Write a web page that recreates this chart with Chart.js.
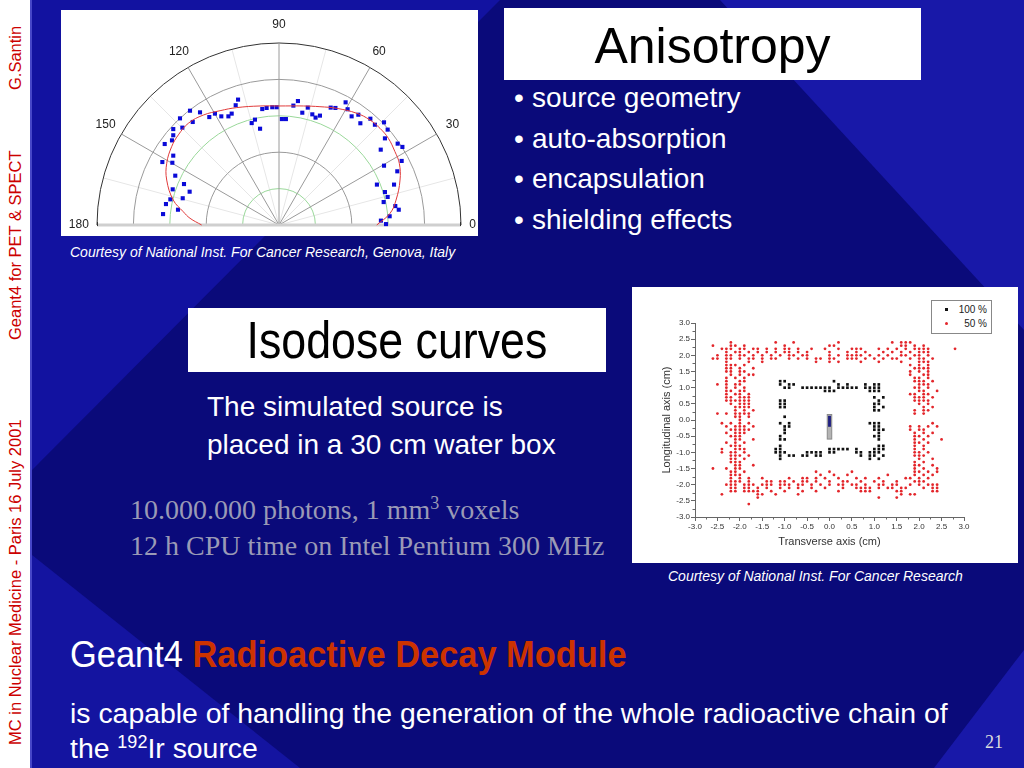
<!DOCTYPE html>
<html>
<head>
<meta charset="utf-8">
<script src="https://cdn.jsdelivr.net/npm/chart.js@4.4.0/dist/chart.umd.min.js"></script>
<style>
  body { margin:0; width:1024px; height:768px; overflow:hidden; position:relative;
         background:#0a0a7a; font-family:"Liberation Sans", Arial, sans-serif; color:#fff; }
  .abs { position:absolute; }
  #bg { position:absolute; left:0; top:0; }
  .strip { left:0; top:0; width:30px; height:768px; background:#fff; border-right:2px solid #4646c8; }
  .side { left:0; top:768px; width:768px; height:30px; transform-origin:0 0; transform:rotate(-90deg);
          color:#cc0000; font-size:16.5px; line-height:30px; white-space:nowrap; }
  .side span { position:absolute; top:0; }
  .box { background:#fff; color:#000; text-align:center; white-space:nowrap; }
  .bul { left:514px; top:78px; font-size:28px; line-height:40.7px; white-space:nowrap; }
  .bul div span { display:inline-block; width:18px; }
  .courtesy { font-style:italic; font-size:14px; white-space:nowrap; }
  .serif { font-family:"Liberation Serif", "Times New Roman", serif; color:#9a9ab6; font-size:28px; white-space:nowrap; }
  #legend { left:931px; top:300px; width:59px; height:30px; border:1px solid #888; background:#fff;
            font-size:10px; color:#222; }
  #legend div { height:14px; line-height:14px; position:relative; }
  #legend i { position:absolute; left:13px; top:5px; width:3px; height:3px; }
  #legend b { position:absolute; right:4px; font-weight:normal; }
</style>
</head>
<body>
<svg id="bg" width="1024" height="768">
  <polygon points="32,0 500,0 32,470" fill="#1212a0"/>
  <polygon points="720,0 1024,0 1024,330" fill="#1818a8"/>
  <polygon points="32,555 300,768 32,768" fill="#1414a0"/>
  <polygon points="1024,650 1024,768 934,768" fill="#1818a8"/>
</svg>
<div class="abs strip"></div>
<div class="abs side">
  <span style="left:23px">MC in Nuclear Medicine - Paris 16 July 2001</span>
  <span style="left:428px">Geant4 for PET &amp; SPECT</span>
  <span style="left:678px">G.Santin</span>
</div>

<div class="abs box" style="left:61px;top:10px;width:417px;height:226px"></div>
<canvas id="polar" class="abs" width="417" height="226" style="left:61px;top:10px"></canvas>
<div class="abs courtesy" style="left:70px;top:244px">Courtesy of National Inst. For Cancer Research, Genova, Italy</div>

<div class="abs box" style="left:504px;top:8px;width:417px;height:72px;font-size:50px;line-height:76px">Anisotropy</div>
<div class="abs bul">
  <div><span>•</span>source geometry</div>
  <div><span>•</span>auto-absorption</div>
  <div><span>•</span>encapsulation</div>
  <div><span>•</span>shielding effects</div>
</div>

<div class="abs box" style="left:188px;top:308px;width:418px;height:64px;line-height:64px">
  <span style="display:inline-block;font-size:52px;transform:scaleX(0.86)">Isodose curves</span></div>
<div class="abs" style="left:207px;top:388px;font-size:28px;line-height:38px;white-space:nowrap">
  The simulated source is<br>placed in a 30 cm water box</div>
<div class="abs serif" style="left:130px;top:492px;line-height:36px">
  10.000.000 photons, 1 mm<sup style="font-size:18px;line-height:0">3</sup> voxels<br>12 h CPU time on Intel Pentium 300 MHz</div>

<div class="abs box" style="left:632px;top:287px;width:386px;height:276px"></div>
<canvas id="iso" class="abs" width="386" height="276" style="left:632px;top:287px"></canvas>
<div id="legend" class="abs"></div>
<div class="abs courtesy" style="left:668px;top:568px">Courtesy of National Inst. For Cancer Research</div>

<div class="abs" style="left:70px;top:634px;font-size:37px;white-space:nowrap;transform-origin:0 0;transform:scaleX(0.93)">
  Geant4 <b style="color:#cc3300">Radioactive Decay Module</b></div>
<div class="abs" style="left:70px;top:696px;font-size:28.4px;line-height:35px;white-space:nowrap">
  is capable of handling the generation of the whole radioactive chain of<br>the <sup style="font-size:18px;line-height:0">192</sup>Ir source</div>
<div class="abs" style="left:985px;top:732px;font-family:'Liberation Serif',serif;font-size:18px;color:#ddd">21</div>

<script>
// ---- Anisotropy (polar plot, relative dose, x = r·cosθ, y = r·sinθ) ----
const anisoX = [-0.225,-0.238,-0.260,-0.278,-0.317,-0.352,-0.383,-0.434,-0.489,-0.474,-0.544,-0.531,-0.581,-0.581,
  -0.588,-0.628,-0.581,-0.641,-0.586,-0.570,-0.522,-0.584,-0.491,-0.529,-0.597,-0.621,-0.555,-0.637,
  -0.150,-0.132,-0.104,-0.092,-0.068,-0.037,-0.013,0.016,0.038,0.079,0.104,0.128,0.158,0.183,0.201,0.225,
  0.284,0.310,0.366,0.377,0.399,0.436,0.447,
  0.502,0.527,0.577,0.597,0.582,0.652,0.678,0.559,0.674,0.577,0.650,0.632,0.538,0.582,0.597,0.575,0.639,
  0.658,0.608,0.560,0.588];
const anisoY = [0.689,0.658,0.612,0.597,0.597,0.612,0.593,0.619,0.628,0.566,0.586,0.535,0.527,0.493,
  0.465,0.445,0.381,0.346,0.342,0.271,0.225,0.196,0.183,0.147,0.141,0.115,0.084,0.060,
  0.560,0.579,0.529,0.637,0.643,0.647,0.647,0.582,0.582,0.656,0.681,0.617,0.645,0.608,0.590,0.601,
  0.645,0.643,0.674,0.636,0.597,0.606,0.559,
  0.584,0.551,0.564,0.524,0.476,0.447,0.429,0.414,0.352,0.326,0.295,0.222,0.222,0.181,0.154,0.126,0.104,
  0.084,0.048,0.024,0.005];
// fitted curve (red)
const fitX = [-0.425,-0.489,-0.526,-0.581,-0.617,-0.617,-0.590,-0.553,-0.498,-0.416,-0.324,-0.233,-0.104,0,
  0.134,0.225,0.317,0.427,0.500,0.555,0.601,0.637,0.661,0.665,0.643,0.610,0.537];
const fitY = [0,0.037,0.073,0.137,0.247,0.339,0.430,0.495,0.559,0.604,0.628,0.645,0.654,0.654,
  0.654,0.650,0.641,0.614,0.577,0.531,0.476,0.403,0.339,0.247,0.137,0.064,0];
const polarAngles = [0, 30, 60, 90, 120, 150, 180];
const polarRings = [0.2, 0.4, 0.6, 0.8, 1.0];

// ---- Isodose curves: rows of [y, x values] in cm ----
const iso100Rows = [
  [1.2, [-1.1,-1.0,0.1]],
  [1.1, [-1.1,-0.9,-0.8,0.2,0.4,0.8,1.0,1.1]],
  [1.0, [-1.0,-0.9,-0.6,-0.5,-0.4,-0.3,-0.2,-0.1,0.0,0.2,0.3,0.4,0.5,0.6,0.8,0.9,1.0,1.1]],
  [0.9, [-0.1,0.0,0.1,0.9,1.0,1.1]],
  [0.7, [1.0,1.2]],
  [0.6, [-1.1,-1.0,1.1]],
  [0.5, [-1.1,-1.0,1.0,1.1]],
  [0.4, [-1.1,-1.0,1.0,1.2]],
  [0.3, [1.0,1.1]],
  [0.1, [-1.0]],
  [-0.1, [-1.1,-0.9,0.9,1.0,1.1]],
  [-0.2, [-1.0,-0.9,1.0,1.1]],
  [-0.3, [-1.0,1.0,1.1,1.2]],
  [-0.4, [-1.0,1.1]],
  [-0.5, [-1.1,1.0,1.1]],
  [-0.6, [-1.1,-1.0,1.1]],
  [-0.8, [-1.1,1.1,1.2]],
  [-0.9, [-1.2,-1.1,0.0,0.1,0.2,0.3,0.4,0.6,1.0,1.1,1.2]],
  [-1.0, [-1.2,-1.1,-1.0,-0.5,-0.4,-0.3,-0.2,0.0,0.1,0.6,0.7,0.9,1.0,1.1]],
  [-1.1, [-1.1,-0.9,-0.8,-0.6,-0.5,-0.3,-0.2,0.7,0.9,1.0,1.2]],
  [-1.2, [-1.1,0.9,1.1]]
];
const iso50Rows = [
  [2.4, [-2.2,-1.2,-0.8,0.2,1.4,1.6,1.7,1.8]],
  [2.3, [-2.6,-2.2,-2.1,-1.9,-1.0,0.0,0.1,1.6,1.7,1.9,2.1]],
  [2.2, [-2.4,-2.3,-2.2,-2.0,-1.9,-1.7,-1.6,-1.4,-1.2,-1.0,-0.9,-0.7,-0.4,-0.1,0.2,0.5,0.6,0.7,1.1,1.3,1.5,1.7,1.9,2.0,2.1,2.2,2.8]],
  [2.1, [-2.3,-2.1,-2.0,-1.8,-1.6,-1.4,-1.2,-1.0,-0.9,-0.7,-0.5,0.0,0.4,0.6,0.8,1.2,1.4,1.6,1.8,2.0,2.1,2.2]],
  [2.0, [-2.5,-2.3,-2.2,-2.0,-1.9,-1.7,-1.5,-1.3,-1.1,-0.9,-0.8,-0.6,-0.5,0.0,0.2,0.4,0.5,0.6,0.7,0.9,1.1,1.3,1.6,1.7,1.9,2.0,2.2]],
  [1.9, [-2.6,-2.5,-2.3,-2.2,-2.0,-1.8,-1.7,-1.5,-1.3,-1.2,-0.9,-0.7,-0.5,-0.3,-0.2,0.0,0.1,0.4,0.5,0.6,0.8,1.0,1.2,1.4,1.5,1.8,2.0,2.1,2.3]],
  [1.8, [-2.3,-1.8,-1.5,-0.3,0.0,0.2,0.7,1.1,1.6,2.0,2.1,2.2]],
  [1.7, [-2.3,-2.2,-2.1,-1.9,1.8,2.0,2.2]],
  [1.6, [-2.3,-2.2,-2.0,-1.7,1.9,2.0,2.1,2.2]],
  [1.5, [-2.3,-2.2,-2.0,-1.9,1.8,2.0,2.2]],
  [1.4, [-2.2,-2.0,-1.8,-1.7,1.8,2.1,2.2]],
  [1.3, [-2.3,-2.1,-1.9,1.9,2.0,2.2]],
  [1.2, [-2.3,-2.0,-1.9,1.9,2.0,2.1,2.3]],
  [1.1, [-2.5,-2.3,-2.1,-2.0,2.0,2.1,2.2]],
  [1.0, [-2.3,-2.1,-1.9,1.9,2.0,2.2]],
  [0.9, [-2.3,-2.2,-2.0,-1.9,2.0,2.1,2.4]],
  [0.8, [-2.3,-2.1,-2.0,-1.8,1.8,1.9,2.1,2.2]],
  [0.7, [-2.3,-2.2,-2.0,-1.9,-1.8,1.9,2.0,2.1,2.3]],
  [0.6, [-2.3,-2.2,-2.1,-2.0,-1.9,-1.8,1.9,2.0,2.1,2.2]],
  [0.5, [-2.2,-2.0,-1.9,-1.8,2.0,2.2]],
  [0.4, [-2.1,-2.0,-1.9,-1.8,2.1,2.3]],
  [0.3, [-2.1,-1.9,-1.7,1.9,2.1,2.2]],
  [0.2, [-2.5,-2.3,-2.1,-2.0,-1.9,-1.8,1.9,2.1]],
  [0.1, [-2.1,-2.0,-1.8]],
  [0.0, [-2.0]],
  [-0.1, [-2.4,-2.2,-2.0,-1.8,2.3]],
  [-0.2, [-2.3,-2.1,-2.0,-1.9,-1.7,1.8,2.0,2.2,2.4]],
  [-0.3, [-2.2,-2.1,-2.0,-1.9,-1.8,1.8,2.0,2.1]],
  [-0.4, [-2.3,-2.1,-2.0,-1.9,1.9,2.1,2.3]],
  [-0.5, [-2.2,-2.1,-2.0,1.9,2.0,2.2]],
  [-0.6, [-2.1,-2.0,-1.7,1.9,2.1,2.5]],
  [-0.7, [-2.3,-2.1,-1.9,1.9,2.0,2.2]],
  [-0.8, [-2.2,-2.1,-2.0,1.9,2.1]],
  [-0.9, [-2.4,-2.1,-2.0,-1.9,1.9,2.1]],
  [-1.0, [-2.4,-2.2,-2.1,-1.9,1.9,2.0,2.2]],
  [-1.1, [-2.2,-2.1,-2.0,-1.8,1.9,2.0,2.1]],
  [-1.2, [-2.2,-2.1,-1.9,2.0,2.3]],
  [-1.3, [-2.2,-2.1,-2.0,1.9,2.1]],
  [-1.4, [-2.1,-2.0,-1.7,1.9,2.0,2.3]],
  [-1.5, [-2.6,-2.3,-2.1,-2.0,1.9,2.1,2.4]],
  [-1.6, [-2.2,-2.1,-1.9,-0.3,0.0,0.5,1.9,2.0,2.2,2.4]],
  [-1.7, [-2.2,-2.1,-2.0,-0.2,0.1,0.4,1.3,1.9,2.1,2.3]],
  [-1.8, [-2.2,-2.0,-1.8,-1.5,-0.9,-0.6,-0.5,-0.3,-0.1,0.2,0.6,0.8,1.1,1.7,1.8,2.0,2.2]],
  [-1.9, [-2.2,-2.1,-2.0,-1.8,-1.4,-1.3,-1.1,-1.0,-0.8,-0.6,-0.5,-0.3,0.0,0.3,0.4,0.7,1.0,1.2,1.5,1.9,2.0,2.1]],
  [-2.0, [-2.3,-2.2,-2.1,-1.9,-1.8,-1.7,-1.5,-1.4,-1.3,-1.1,-1.0,-0.9,-0.7,-0.6,-0.4,-0.2,0.0,0.2,0.3,0.5,0.6,0.8,1.1,1.2,1.4,1.5,1.8,2.0,2.2,2.3,2.4]],
  [-2.1, [-2.2,-2.1,-1.9,-1.8,-1.6,-1.4,-1.1,-0.9,-0.7,-0.4,-0.1,0.3,0.6,0.7,0.8,0.9,1.1,1.3,1.4,1.6,1.7,2.1,2.3,2.4]],
  [-2.2, [-2.2,-2.1,-1.9,-1.8,-1.7,-1.6,-1.3,-1.0,-0.6,-0.3,0.2,0.7,0.8,0.9,1.5,1.6,2.3,2.4]],
  [-2.3, [-2.4,-1.6,-1.5,-1.2,-0.7,1.6,1.8,1.9]],
  [-2.4, [-1.6,1.1,1.5]],
  [-2.6, [-1.8]]
];
const isoTicks = [-3,-2.5,-2,-1.5,-1,-0.5,0,0.5,1,1.5,2,2.5,3];
const isoLabels = ['100 %', '50 %'];
// Ir-192 seed drawn at the origin: x span, capsule y span, core y span (cm)
const seedX = [-0.05, 0.05];
const seedCapsule = [0.17, -0.59];
const seedCore = [0.13, -0.21];

const zip = (xs, ys) => xs.map((x, i) => ({x, y: ys[i]}));
const rowsToPoints = rows => rows.flatMap(([y, xs]) => xs.map(x => ({x, y})));

// polar grid + labels
const polarGrid = {
  id: 'polarGrid',
  beforeDatasetsDraw(chart) {
    const {ctx, scales: {x, y}} = chart;
    const cx = x.getPixelForValue(0), cy = y.getPixelForValue(0);
    const R = x.getPixelForValue(1) - cx;
    ctx.save();
    ctx.lineWidth = 1;
    // faint minor spokes
    ctx.strokeStyle = '#e6e6e6';
    for (let a = 15; a < 180; a += 30) {
      const t = a * Math.PI / 180;
      ctx.beginPath(); ctx.moveTo(cx, cy); ctx.lineTo(cx + R * Math.cos(t), cy - R * Math.sin(t)); ctx.stroke();
    }
    polarRings.forEach((r, i) => {
      ctx.strokeStyle = r === 1 ? '#333' : (i % 2 === 0 ? '#9ad89a' : '#9a9a9a');
      ctx.beginPath(); ctx.arc(cx, cy, r * R, Math.PI, 2 * Math.PI); ctx.stroke();
    });
    ctx.strokeStyle = '#9a9a9a';
    polarAngles.slice(1, -1).forEach(a => {
      const t = a * Math.PI / 180;
      ctx.beginPath(); ctx.moveTo(cx, cy); ctx.lineTo(cx + R * Math.cos(t), cy - R * Math.sin(t)); ctx.stroke();
    });
    ctx.strokeStyle = '#cfcfcf'; ctx.lineWidth = 3;
    ctx.beginPath(); ctx.moveTo(cx - R, cy); ctx.lineTo(cx + R, cy); ctx.stroke();
    ctx.strokeStyle = '#333'; ctx.lineWidth = 1;
    ctx.beginPath(); ctx.moveTo(cx - R + 0.5, cy - 3); ctx.lineTo(cx - R + 0.5, cy + 1);
    ctx.moveTo(cx + R - 0.5, cy - 3); ctx.lineTo(cx + R - 0.5, cy + 1); ctx.stroke();
    ctx.restore();
  },
  afterDraw(chart) {
    const {ctx, scales: {x, y}} = chart;
    const cx = x.getPixelForValue(0), cy = y.getPixelForValue(0);
    const R = x.getPixelForValue(1) - cx;
    ctx.save();
    ctx.fillStyle = '#222'; ctx.font = '12px "Liberation Sans", Arial, sans-serif';
    ctx.textBaseline = 'middle';
    polarAngles.forEach(a => {
      const t = a * Math.PI / 180;
      if (a === 0) { ctx.textAlign = 'left'; ctx.fillText(a, cx + R * 1.045, cy); return; }
      if (a === 180) { ctx.textAlign = 'right'; ctx.fillText(a, cx - R * 1.045, cy); return; }
      ctx.textAlign = 'center';
      ctx.fillText(a, cx + 1.1 * R * Math.cos(t), cy - 1.1 * R * Math.sin(t));
    });
    ctx.restore();
  }
};

new Chart(document.getElementById('polar'), {
  type: 'scatter',
  data: { datasets: [
    { data: zip(fitX, fitY), showLine: true, borderColor: '#e03a3a', borderWidth: 1, pointRadius: 0,
      tension: 0.4, clip: false },
    { data: zip(anisoX, anisoY), pointStyle: 'rect', pointRadius: 2.9, backgroundColor: '#0a0ad8',
      borderWidth: 0, clip: false }
  ]},
  options: {
    responsive: false, animation: false,
    layout: { padding: { left: 36, right: 17, top: 33, bottom: 11 } },
    plugins: { legend: { display: false }, tooltip: { enabled: false } },
    scales: {
      x: { type: 'linear', min: -1, max: 1, display: false },
      y: { type: 'linear', min: 0, max: 1, display: false }
    }
  },
  plugins: [polarGrid]
});

// isodose extras: minor ticks and the source seed
const isoExtras = {
  id: 'isoExtras',
  beforeDatasetsDraw(chart) {
    const {ctx, scales: {x, y}} = chart;
    const x0 = x.getPixelForValue(seedX[0]), x1 = x.getPixelForValue(seedX[1]);
    ctx.save();
    ctx.fillStyle = '#b4b4b4'; ctx.strokeStyle = '#8a8a8a';
    const c0 = y.getPixelForValue(seedCapsule[0]), c1 = y.getPixelForValue(seedCapsule[1]);
    ctx.fillRect(x0, c0, x1 - x0, c1 - c0); ctx.strokeRect(x0, c0, x1 - x0, c1 - c0);
    ctx.fillStyle = '#202080';
    const k0 = y.getPixelForValue(seedCore[0]), k1 = y.getPixelForValue(seedCore[1]);
    ctx.fillRect(x0 + 0.8, k0, x1 - x0 - 1.6, k1 - k0);
    ctx.restore();
  },
  afterDraw(chart) {
    const {ctx, scales: {x, y}} = chart;
    ctx.save(); ctx.strokeStyle = '#666'; ctx.lineWidth = 1; ctx.beginPath();
    isoTicks.slice(0, -1).forEach(v => {
      const px = Math.round(x.getPixelForValue(v + 0.25)) + 0.5;
      ctx.moveTo(px, x.top); ctx.lineTo(px, x.top + 2.5);
      const py = Math.round(y.getPixelForValue(v + 0.25)) + 0.5;
      ctx.moveTo(y.right, py); ctx.lineTo(y.right - 2.5, py);
    });
    ctx.stroke(); ctx.restore();
  }
};

const tickFont = { size: 8, family: '"Liberation Sans", Arial, sans-serif' };
const isoChart = new Chart(document.getElementById('iso'), {
  type: 'scatter',
  data: { datasets: [
    { label: isoLabels[0], data: rowsToPoints(iso100Rows), pointStyle: 'rect', pointRadius: 1.9,
      backgroundColor: '#111', borderWidth: 0 },
    { label: isoLabels[1], data: rowsToPoints(iso50Rows), pointStyle: 'circle', pointRadius: 1.4,
      backgroundColor: '#e3262b', borderWidth: 0 }
  ]},
  options: {
    responsive: false, animation: false,
    layout: { padding: { left: 0, right: 54, top: 36, bottom: 0 } },
    plugins: { legend: { display: false }, tooltip: { enabled: false } },
    scales: {
      x: { type: 'linear', min: -3, max: 3,
           afterBuildTicks: s => { s.ticks = isoTicks.map(v => ({ value: v })); },
           afterFit: s => { s.height = 46; },
           ticks: { callback: v => v.toFixed(1), font: tickFont, color: '#333', maxRotation: 0,
                    autoSkip: false, padding: 1 },
           grid: { drawOnChartArea: false, tickLength: 4, color: '#666' },
           border: { color: '#666' },
           title: { display: true, text: 'Transverse axis (cm)', color: '#333',
                    font: { size: 11, family: '"Liberation Sans", Arial, sans-serif' },
                    padding: { top: 0, bottom: 14 } } },
      y: { type: 'linear', min: -3, max: 3,
           afterBuildTicks: s => { s.ticks = isoTicks.map(v => ({ value: v })); },
           afterFit: s => { s.width = 63; },
           ticks: { callback: v => v.toFixed(1), font: tickFont, color: '#333', autoSkip: false, padding: 1 },
           grid: { drawOnChartArea: false, tickLength: 4, color: '#666' },
           border: { color: '#666' },
           title: { display: true, text: 'Longitudinal axis (cm)', color: '#333',
                    font: { size: 11, family: '"Liberation Sans", Arial, sans-serif' },
                    padding: { top: 28, bottom: 0 } } }
    }
  },
  plugins: [isoExtras]
});

// legend box built from the datasets
const legend = document.getElementById('legend');
legend.style.paddingTop = '2px';
isoChart.data.datasets.forEach(ds => {
  const row = document.createElement('div');
  row.innerHTML = '<i style="background:' + ds.backgroundColor + (ds.pointStyle === 'circle' ? ';border-radius:50%' : '') +
    '"></i><b>' + ds.label + '</b>';
  legend.appendChild(row);
});
</script>
</body>
</html>
